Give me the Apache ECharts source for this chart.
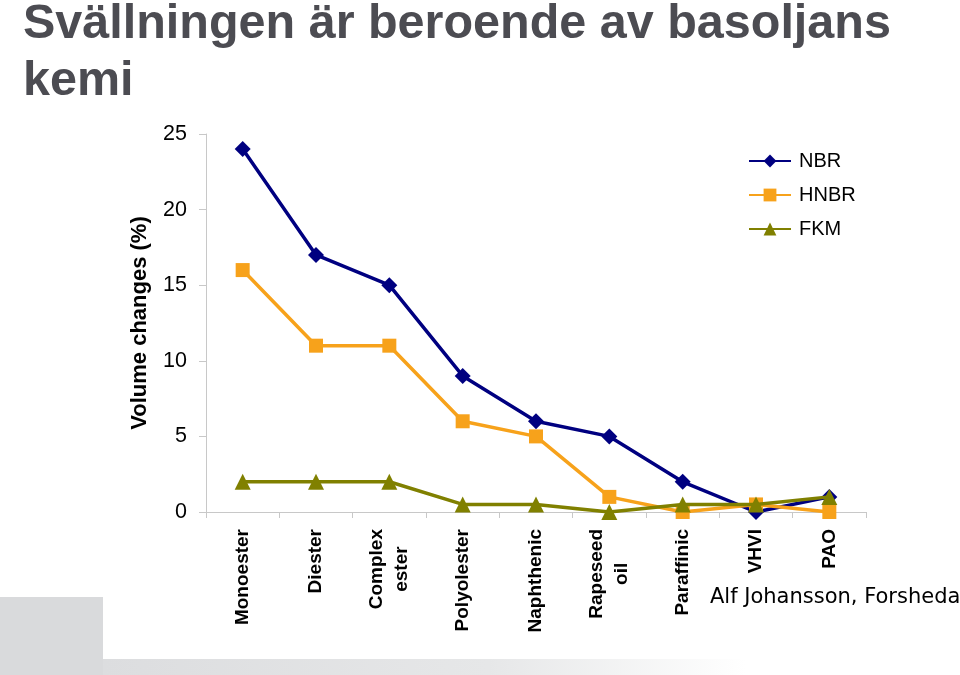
<!DOCTYPE html>
<html>
<head>
<meta charset="utf-8">
<script src="https://cdn.jsdelivr.net/npm/echarts@6/dist/echarts.min.js"></script>
<style>html,body{margin:0;padding:0;background:#fff}#c{width:960px;height:675px}</style>
</head>
<body>
<div id="c"></div>
<script>
var categories = ['Monoester', 'Diester', 'Complex\nester', 'Polyolester', 'Naphthenic', 'Rapeseed\noil', 'Paraffinic', 'VHVI', 'PAO'];
var nbr = [24, 17, 15, 9, 6, 5, 2, 0, 1];
var hnbr = [16, 11, 11, 6, 5, 1, 0, 0.5, 0];
var fkm = [2, 2, 2, 0.5, 0.5, 0, 0.5, 0.5, 1];
var yTicks = [0, 5, 10, 15, 20, 25];

var chart = echarts.init(document.getElementById('c'), null, {renderer: 'canvas'});
function catLabel(v) {
  var parts = v.split('\n');
  if (parts.length === 1) return parts[0];
  return '{a|' + parts[0] + '}\n{b|' + parts[1] + '}';
}
var option = {
  backgroundColor: '#fff',
  animation: false,
  graphic: [
    {type: 'rect', left: 0, top: 597, shape: {width: 103, height: 78}, style: {fill: '#d9dadc'}, z: 0},
    {type: 'rect', left: 103, top: 659, shape: {width: 857, height: 16},
      style: {fill: new echarts.graphic.LinearGradient(0, 0, 1, 0, [
        {offset: 0, color: '#dcdddf'}, {offset: 0.45, color: '#e6e7e8'}, {offset: 0.75, color: '#ffffff'}, {offset: 1, color: '#ffffff'}])}, z: 0},
    {type: 'text', left: 23, top: -4, z: 10,
      style: {text: 'Svällningen är beroende av basoljans\nkemi', fontFamily: 'Liberation Sans', fontWeight: 'bold', fontSize: 48.5, lineHeight: 57, fill: '#4c4c52'}},
    {type: 'text', left: 710, top: 587, z: 10,
      style: {text: 'Alf Johansson, Forsheda', fontFamily: 'DejaVu Sans', fontSize: 21, fill: '#000'}}
  ],
  grid: {left: 206, right: 94, top: 134, bottom: 163, containLabel: false},
  legend: {
    orient: 'vertical', left: 743, top: 146, itemWidth: 42, itemHeight: 16, itemGap: 14,
    textStyle: {fontFamily: 'Liberation Sans', fontSize: 20, color: '#000', padding: [0, 0, 0, 3]},
    data: ['NBR', 'HNBR', 'FKM']
  },
  xAxis: {
    type: 'category', data: categories, boundaryGap: true,
    axisLine: {show: true, lineStyle: {color: '#c8c8c8', width: 1}},
    axisTick: {show: true, length: 6, alignWithLabel: false, lineStyle: {color: '#c8c8c8'}},
    axisLabel: {
      rotate: 90, margin: 17, interval: 0,
      fontFamily: 'Liberation Sans', fontWeight: 'bold', fontSize: 19, color: '#000', lineHeight: 25,
      formatter: catLabel,
      rich: {
        a: {fontFamily: 'Liberation Sans', fontWeight: 'bold', fontSize: 19, color: '#000', lineHeight: 25},
        b: {fontFamily: 'Liberation Sans', fontWeight: 'bold', fontSize: 19, color: '#000', lineHeight: 25, align: 'center'}
      }
    },
    splitLine: {show: false}
  },
  yAxis: {
    type: 'value', min: yTicks[0], max: yTicks[yTicks.length - 1], interval: 5,
    name: 'Volume changes (%)', nameLocation: 'middle', nameGap: 55, nameRotate: 90,
    nameTextStyle: {fontFamily: 'Liberation Sans', fontWeight: 'bold', fontSize: 22, color: '#000'},
    axisLine: {show: true, lineStyle: {color: '#c8c8c8', width: 1}},
    axisTick: {show: true, length: 7, lineStyle: {color: '#c8c8c8'}},
    axisLabel: {fontFamily: 'Liberation Sans', fontSize: 21.5, color: '#000', margin: 19},
    splitLine: {show: false}
  },
  series: [
    {name: 'NBR', type: 'line', data: nbr, symbol: 'diamond', symbolSize: 16,
      lineStyle: {color: '#000080', width: 3.5}, itemStyle: {color: '#000080'}, z: 3},
    {name: 'HNBR', type: 'line', data: hnbr, symbol: 'rect', symbolSize: 14,
      lineStyle: {color: '#f7a21b', width: 3.5}, itemStyle: {color: '#f7a21b'}, z: 4},
    {name: 'FKM', type: 'line', data: fkm, symbol: 'triangle', symbolSize: 16,
      lineStyle: {color: '#808000', width: 3.5}, itemStyle: {color: '#808000'}, z: 5}
  ]
};
chart.setOption(option);
</script>
</body>
</html>
